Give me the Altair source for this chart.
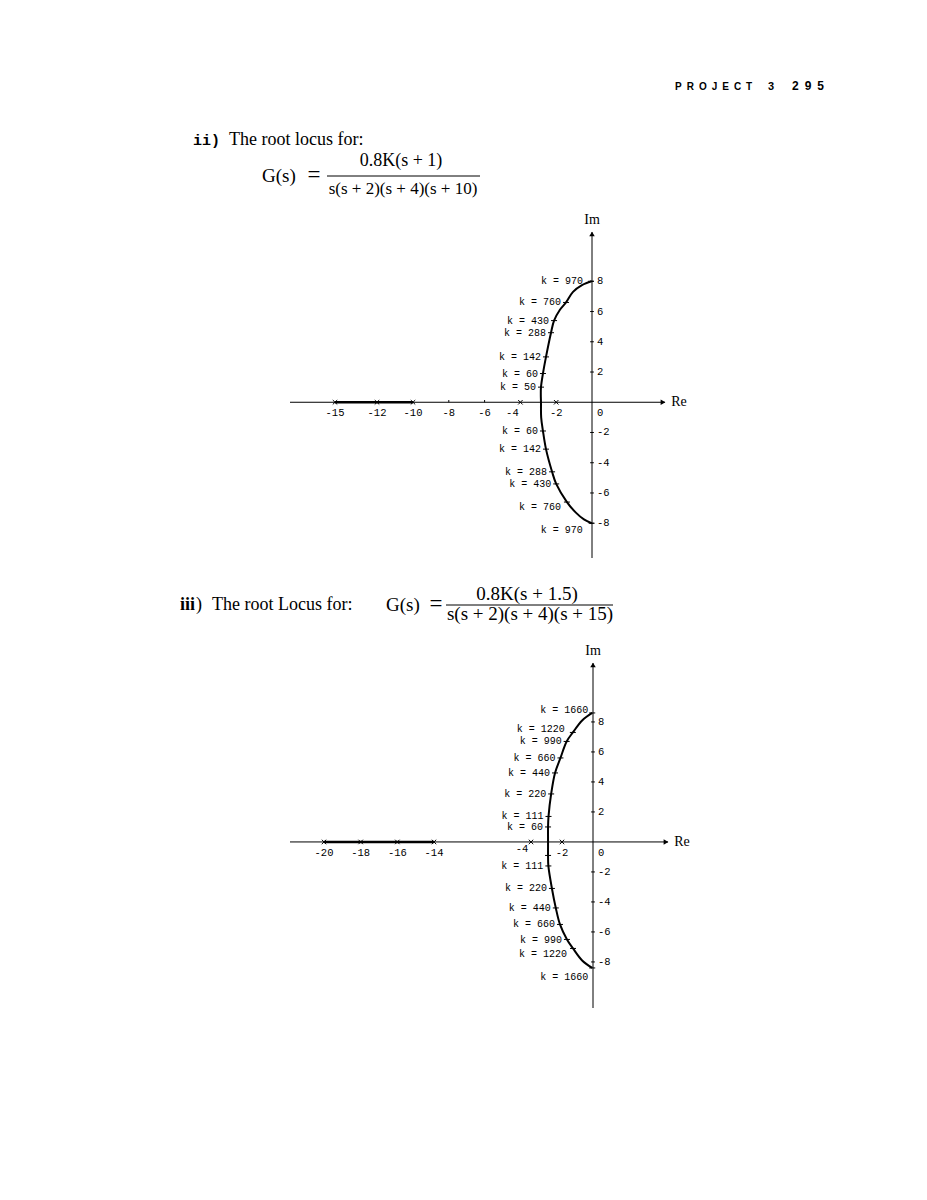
import altair as alt
import pandas as pd

# ---------------- data: root locus (ii) ----------------
ii_up_k = [50, 60, 142, 288, 430, 760, 970]
ii_up_re = [-2.85, -2.74, -2.57, -2.29, -2.12, -1.45, -0.06]
ii_up_im = [1.0, 1.9, 3.0, 4.6, 5.4, 6.6, 8.0]
ii_lo_k = [60, 142, 288, 430, 760, 970]
ii_lo_re = [-2.74, -2.57, -2.23, -2.0, -1.40, -0.02]
ii_lo_im = [-1.9, -3.1, -4.6, -5.4, -6.6, -8.0]
ii_curve_re = [-0.02, -0.45, -0.9, -1.40, -2.0, -2.23, -2.57, -2.74, -2.84, -2.85,
               -2.86, -2.85, -2.74, -2.57, -2.29, -2.12, -1.8, -1.45, -1.06, -0.56, -0.02]
ii_curve_im = [-8.0, -7.75, -7.3, -6.6, -5.4, -4.6, -3.1, -1.9, -1.0, 0.0,
               0.5, 1.0, 1.9, 3.0, 4.6, 5.4, 6.1, 6.6, 7.3, 7.75, 8.0]
ii_cross_re = [-15, -12, -10, -4, -2]
ii_minor_re = [-8, -6]
ii_xtick = [-15, -12, -10, -8, -6, -4, -2]
ii_ytick = [8, 6, 4, 2, -2, -4, -6, -8]
ii_real_seg = [-15, -10]
ii_re_ext = [-18.2, 4.1]
ii_im_ext = [-10.3, 11.26]

# ---------------- data: root locus (iii) ----------------
iii_up_k = [60, 111, 220, 440, 660, 990, 1220, 1660]
iii_up_re = [-2.9, -2.87, -2.7, -2.45, -2.1, -1.7, -1.3, -0.05]
iii_up_im = [1.0, 1.7, 3.2, 4.6, 5.6, 6.7, 7.3, 8.6]
iii_lo_lab = ["", "k = 111", "k = 220", "k = 440", "k = 660", "k = 990", "k = 1220", "k = 1660"]
iii_lo_re = [-2.9, -2.88, -2.65, -2.4, -2.13, -1.68, -1.29, -0.05]
iii_lo_im = [-0.9, -1.6, -3.1, -4.4, -5.5, -6.5, -7.1, -8.4]
iii_curve_re = [-0.05, -0.7, -1.29, -1.68, -2.13, -2.4, -2.65, -2.88, -2.9, -2.9,
                -2.9, -2.87, -2.7, -2.45, -2.1, -1.7, -1.3, -0.7, -0.05]
iii_curve_im = [-8.4, -7.9, -7.1, -6.5, -5.5, -4.4, -3.1, -1.6, -0.9, 0.0,
                1.0, 1.7, 3.2, 4.6, 5.6, 6.7, 7.3, 8.1, 8.6]
iii_cross_re = [-20, -18, -16, -14, -4, -2]
iii_minor_re = []
iii_xtick = [-20, -18, -16, -14, -4, -2]
iii_ytick = [8, 6, 4, 2, -2, -4, -6, -8]
iii_real_seg = [-20, -14]
iii_re_ext = [-21.9, 4.8]
iii_im_ext = [-11.07, 11.93]

# ---------------- layout helpers ----------------
M = 8          # page margin
OFF1 = 8       # top of panel 1 on page
OFF2 = 570     # top of panel 2 on page
W = 900
H1 = OFF2 - OFF1
H2 = 460

SERIF = "Liberation Serif"
MONO = "Liberation Mono"
SANS = "Liberation Sans"

ii_x = alt.Scale(domain=[ii_re_ext[0], -15, -12, -10, 0, ii_re_ext[1]],
                 range=[290 - M, 335 - M, 377 - M, 413 - M, 592 - M, 665 - M],
                 nice=False, zero=False)
ii_y = alt.Scale(domain=ii_im_ext, range=[558 - OFF1, 232 - OFF1], nice=False, zero=False)
iii_x = alt.Scale(domain=[iii_re_ext[0], -20, -14, -4, 0, iii_re_ext[1]],
                  range=[290 - M, 324 - M, 434 - M, 531 - M, 593 - M, 668 - M],
                  nice=False, zero=False)
iii_y = alt.Scale(domain=iii_im_ext, range=[1008 - OFF2, 663 - OFF2], nice=False, zero=False)

one = pd.DataFrame({"t": [""]})


def txt(s, x, y, off, size=15, font=SERIF, weight="normal", align="left", baseline="alphabetic"):
    return alt.Chart(one).mark_text(
        text=s, font=font, fontSize=size, fontWeight=weight, align=align,
        baseline=baseline, color="black"
    ).encode(x=alt.value(x - M), y=alt.value(y - off))


def hline(x1, x2, y, off):
    return alt.Chart(one).mark_rule(color="black", strokeWidth=1).encode(
        x=alt.value(x1 - M), x2=alt.value(x2 - M), y=alt.value(y - off))


def locus(xs, ys, re_ext, im_ext, real_seg, cross_re, minor_re, xtick, ytick,
          curve_re, curve_im, up_lab, up_re, up_im, lo_lab, lo_re, lo_im,
          nudges, xtick_nudges):
    X = lambda f: alt.X(f, scale=xs, axis=None)
    Y = lambda f: alt.Y(f, scale=ys, axis=None)
    L = []
    # axes
    L.append(alt.Chart(pd.DataFrame({"a": [re_ext[0]], "b": [re_ext[1]], "y": [0.0]}))
             .mark_rule(color="black", strokeWidth=1)
             .encode(x=X("a:Q"), x2="b:Q", y=Y("y:Q")))
    L.append(alt.Chart(pd.DataFrame({"x": [0.0], "a": [im_ext[0]], "b": [im_ext[1]]}))
             .mark_rule(color="black", strokeWidth=1)
             .encode(x=X("x:Q"), y=Y("a:Q"), y2="b:Q"))
    # arrow heads
    L.append(alt.Chart(pd.DataFrame({"re": [re_ext[1]], "im": [0.0]}))
             .mark_point(shape="triangle-right", filled=True, size=30, color="black", opacity=1, xOffset=-2)
             .encode(x=X("re:Q"), y=Y("im:Q")))
    L.append(alt.Chart(pd.DataFrame({"re": [0.0], "im": [im_ext[1]]}))
             .mark_point(shape="triangle-up", filled=True, size=30, color="black", opacity=1, yOffset=2)
             .encode(x=X("re:Q"), y=Y("im:Q")))
    # thick real-axis locus
    L.append(alt.Chart(pd.DataFrame({"a": [real_seg[0]], "b": [real_seg[1]], "y": [0.0]}))
             .mark_rule(color="black", strokeWidth=2.5)
             .encode(x=X("a:Q"), x2="b:Q", y=Y("y:Q")))
    # crosses on real axis
    L.append(alt.Chart(pd.DataFrame({"re": cross_re, "im": [0.0] * len(cross_re)}))
             .mark_point(shape="M-1,-1L1,1M-1,1L1,-1", size=20, filled=False,
                         color="black", strokeWidth=1, opacity=1)
             .encode(x=X("re:Q"), y=Y("im:Q")))
    if minor_re:
        L.append(alt.Chart(pd.DataFrame({"re": minor_re, "im": [0.0] * len(minor_re)}))
                 .mark_point(shape="M0,-1L0,0", size=20, filled=False,
                             color="black", strokeWidth=1, opacity=1)
                 .encode(x=X("re:Q"), y=Y("im:Q")))
    # y ticks
    L.append(alt.Chart(pd.DataFrame({"re": [0.0] * len(ytick), "im": ytick}))
             .mark_point(shape="M-1,0L1,0", size=14, filled=False,
                         color="black", strokeWidth=1, opacity=1)
             .encode(x=X("re:Q"), y=Y("im:Q")))
    # x tick labels (some nudged as in the original drawing)
    plain = [v for v in xtick if v not in xtick_nudges]
    L.append(alt.Chart(pd.DataFrame({"re": plain, "im": [0.0] * len(plain),
                                     "lab": [str(v) for v in plain]}))
             .mark_text(font=MONO, fontSize=10.5, dy=11, color="black")
             .encode(x=X("re:Q"), y=Y("im:Q"), text="lab:N"))
    for v, (ndx, ndy) in xtick_nudges.items():
        L.append(alt.Chart(pd.DataFrame({"re": [v], "im": [0.0], "lab": [str(v)]}))
                 .mark_text(font=MONO, fontSize=10.5, dx=ndx, dy=11 + ndy, color="black")
                 .encode(x=X("re:Q"), y=Y("im:Q"), text="lab:N"))
    L.append(alt.Chart(pd.DataFrame({"re": [0.0] * len(ytick), "im": ytick,
                                     "lab": [str(v) for v in ytick]}))
             .mark_text(font=MONO, fontSize=10.5, dx=5, align="left", color="black")
             .encode(x=X("re:Q"), y=Y("im:Q"), text="lab:N"))
    L.append(alt.Chart(pd.DataFrame({"re": [0.0], "im": [0.0], "lab": ["0"]}))
             .mark_text(font=MONO, fontSize=10.5, dx=5, dy=11, align="left", color="black")
             .encode(x=X("re:Q"), y=Y("im:Q"), text="lab:N"))
    # Re / Im labels
    L.append(alt.Chart(pd.DataFrame({"re": [re_ext[1]], "im": [0.0], "lab": ["Re"]}))
             .mark_text(font=SERIF, fontSize=14, dx=14, align="center", color="black")
             .encode(x=X("re:Q"), y=Y("im:Q"), text="lab:N"))
    L.append(alt.Chart(pd.DataFrame({"re": [0.0], "im": [im_ext[1]], "lab": ["Im"]}))
             .mark_text(font=SERIF, fontSize=14, dy=-12, align="center", color="black")
             .encode(x=X("re:Q"), y=Y("im:Q"), text="lab:N"))
    # locus curve
    L.append(alt.Chart(pd.DataFrame({"re": curve_re, "im": curve_im,
                                     "i": list(range(len(curve_re)))}))
             .mark_line(color="black", strokeWidth=2, interpolate="catmull-rom")
             .encode(x=X("re:Q"), y=Y("im:Q"), order="i:Q"))
    # gain markers
    L.append(alt.Chart(pd.DataFrame({"re": up_re + lo_re, "im": up_im + lo_im}))
             .mark_point(shape="M-1,0L1,0", size=36, filled=False,
                         color="black", strokeWidth=1, opacity=1)
             .encode(x=X("re:Q"), y=Y("im:Q")))
    # gain labels
    rows = [("up", l, r, i) for l, r, i in zip(up_lab, up_re, up_im)] + \
           [("lo", l, r, i) for l, r, i in zip(lo_lab, lo_re, lo_im)]
    plain_rows = [(l, r, i) for b, l, r, i in rows if (b, l) not in nudges and l]
    lab_df = pd.DataFrame({"lab": [p[0] for p in plain_rows], "re": [p[1] for p in plain_rows],
                           "im": [p[2] for p in plain_rows]})
    L.append(alt.Chart(lab_df)
             .mark_text(font=MONO, fontSize=10, align="right", dx=-5, color="black")
             .encode(x=X("re:Q"), y=Y("im:Q"), text="lab:N"))
    for b, l, r, i in rows:
        if (b, l) in nudges:
            ndx, ndy = nudges[(b, l)]
            L.append(alt.Chart(pd.DataFrame({"re": [r], "im": [i], "lab": [l]}))
                     .mark_text(font=MONO, fontSize=10, align="right", dx=ndx, dy=ndy, color="black")
                     .encode(x=X("re:Q"), y=Y("im:Q"), text="lab:N"))
    return L


# ---------------- panel 1 ----------------
p1_layers = [
    txt("P\u2002R\u2002O\u2002J\u2002E\u2002C\u2002T", 675, 90, OFF1, size=10, font=SANS, weight="bold"),
    txt("3", 768, 90, OFF1, size=11, font=SANS, weight="bold"),
    txt("2\u20029\u20025", 792, 90, OFF1, size=12, font=SANS, weight="bold"),
    txt("ii)", 193, 145, OFF1, size=15, font=MONO, weight="bold"),
    txt("The root locus for:", 229, 145, OFF1, size=18),
    txt("G(s)", 262, 182, OFF1, size=19),
    txt("=", 314, 182, OFF1, size=23, align="center"),
    hline(327, 480, 176, OFF1),
    txt("0.8K(s + 1)", 401, 166, OFF1, size=18, align="center"),
    txt("s(s + 2)(s + 4)(s + 10)", 403, 194, OFF1, size=17, align="center"),
] + locus(ii_x, ii_y, ii_re_ext, ii_im_ext, ii_real_seg, ii_cross_re, ii_minor_re,
          ii_xtick, ii_ytick, ii_curve_re, ii_curve_im,
          [f"k = {k}" for k in ii_up_k], ii_up_re, ii_up_im,
          [f"k = {k}" for k in ii_lo_k], ii_lo_re, ii_lo_im,
          nudges={("up", "k = 970"): (-8, 0), ("lo", "k = 970"): (-9, 7),
                  ("lo", "k = 760"): (-6, 5)},
          xtick_nudges={-4: (-8, 0)})

p1 = alt.layer(*p1_layers).properties(width=W, height=H1)

# ---------------- panel 2 ----------------
p2_layers = [
    txt("iii", 180, 610, OFF2, size=18, weight="bold"),
    txt(")", 196, 610, OFF2, size=18),
    txt("The root Locus for:", 212, 610, OFF2, size=18),
    txt("G(s)", 386, 611, OFF2, size=19),
    txt("=", 436, 611, OFF2, size=23, align="center"),
    hline(446, 613, 605, OFF2),
    txt("0.8K(s + 1.5)", 527, 600, OFF2, size=19, align="center"),
    txt("s(s + 2)(s + 4)(s + 15)", 530, 620, OFF2, size=19, align="center"),
] + locus(iii_x, iii_y, iii_re_ext, iii_im_ext, iii_real_seg, iii_cross_re, iii_minor_re,
          iii_xtick, iii_ytick, iii_curve_re, iii_curve_im,
          [f"k = {k}" for k in iii_up_k], iii_up_re, iii_up_im,
          iii_lo_lab, iii_lo_re, iii_lo_im,
          nudges={("up", "k = 1660"): (-4, -3), ("lo", "k = 1660"): (-4, 9),
                  ("up", "k = 1220"): (-8, -3), ("lo", "k = 1220"): (-6, 6),
                  ("lo", "k = 990"): (-5, 1)},
          xtick_nudges={-4: (-9, -4)})

p2 = alt.layer(*p2_layers).properties(width=W, height=H2)

chart = (alt.vconcat(p1, p2, spacing=0)
         .properties(padding=0)
         .configure_view(stroke=None))

chart.save("out.html", embed_options={"renderer": "svg", "actions": False})
